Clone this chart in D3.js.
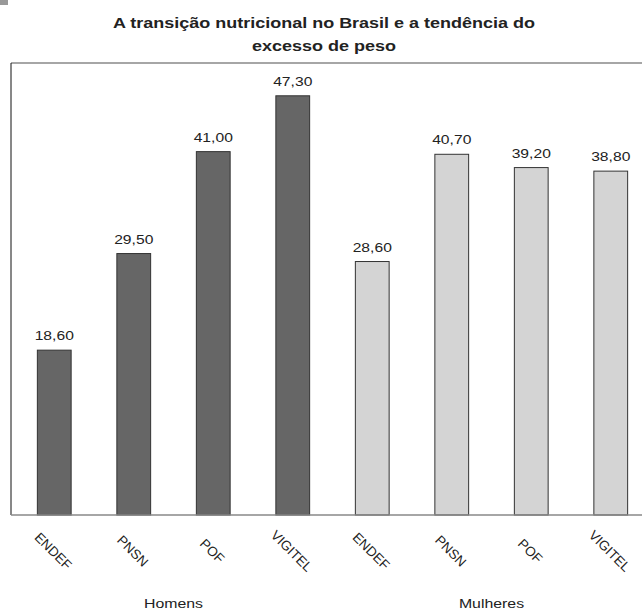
<!DOCTYPE html>
<html>
<head>
<meta charset="utf-8">
<script src="https://cdn.jsdelivr.net/npm/d3@7"></script>
<style>
  body { margin: 0; background: #fff; }
  text { font-family: "Liberation Sans", Arial, sans-serif; fill: #222; }
</style>
</head>
<body>
<svg id="chart" width="642" height="612"></svg>
<script>
(function() {

  // data
  var surveys = ['ENDEF', 'PNSN', 'POF', 'VIGITEL']
  var groups = ['Homens', 'Mulheres']
  var homens = [18.6, 29.5, 41.0, 47.3]
  var mulheres = [28.6, 40.7, 39.2, 38.8]
  var titleLines = ['A transição nutricional no Brasil e a tendência do', 'excesso de peso']

  var datapoints = []
  surveys.forEach(function(s, i) {
    datapoints.push({ key: 'Homens-' + s, survey: s, group: 'Homens', value: homens[i] })
  })
  surveys.forEach(function(s, i) {
    datapoints.push({ key: 'Mulheres-' + s, survey: s, group: 'Mulheres', value: mulheres[i] })
  })

  var stretch = 1.16 // text in the picture looks a bit wide

  var svg = d3.select('#chart')

  var left = 11, right = 642, top = 63, bottom = 515

  var xPositionScale = d3.scaleBand()
    .domain(datapoints.map(function(d) { return d.key }))
    .range([14.5, 650.5])
    .paddingInner(0.575)
    .paddingOuter(0.2875)

  var yPositionScale = d3.scaleLinear().domain([0, 51]).range([bottom, top])

  var colorScale = d3.scaleOrdinal().domain(groups).range(['#666666', '#d4d4d4'])

  // little grey mark in the corner
  svg.append('rect').attr('x', 0).attr('y', 0).attr('width', 8).attr('height', 5).attr('fill', '#999')

  // title
  svg.selectAll('.title')
    .data(titleLines)
    .enter().append('text')
    .attr('class', 'title')
    .attr('transform', function(d, i) { return 'translate(324,' + (27.5 + i * 23) + ') scale(1.2,1)' })
    .attr('text-anchor', 'middle')
    .style('font-size', '15px')
    .style('font-weight', 'bold')
    .text(function(d) { return d })

  // frame
  svg.append('line').attr('x1', left).attr('x2', right).attr('y1', top).attr('y2', top)
    .attr('stroke', '#888').attr('stroke-width', 1.5)
  svg.append('line').attr('x1', left).attr('x2', left).attr('y1', top).attr('y2', bottom)
    .attr('stroke', '#111').attr('stroke-width', 1)

  // bars
  svg.selectAll('.bar')
    .data(datapoints)
    .enter().append('rect')
    .attr('class', 'bar')
    .attr('x', function(d) { return xPositionScale(d.key) })
    .attr('width', xPositionScale.bandwidth())
    .attr('y', function(d) { return yPositionScale(d.value) })
    .attr('height', function(d) { return yPositionScale(0) - yPositionScale(d.value) })
    .attr('fill', function(d) { return colorScale(d.group) })
    .attr('stroke', '#333')
    .attr('stroke-width', 1)

  // value labels
  svg.selectAll('.value')
    .data(datapoints)
    .enter().append('text')
    .attr('class', 'value')
    .attr('transform', function(d) {
      var cx = xPositionScale(d.key) + xPositionScale.bandwidth() / 2
      return 'translate(' + cx + ',' + (yPositionScale(d.value) - 10) + ') scale(' + stretch + ',1)'
    })
    .attr('text-anchor', 'middle')
    .style('font-size', '13.5px')
    .text(function(d) { return d3.format('.2f')(d.value).replace('.', ',') })

  // bottom axis line
  svg.append('line').attr('x1', left).attr('x2', right).attr('y1', bottom).attr('y2', bottom)
    .attr('stroke', '#888').attr('stroke-width', 1.5)

  // rotated category labels
  svg.selectAll('.cat')
    .data(datapoints)
    .enter().append('text')
    .attr('class', 'cat')
    .attr('transform', function(d) {
      var cx = xPositionScale(d.key) + xPositionScale.bandwidth() / 2 - 1
      return 'translate(' + cx + ',551) rotate(45)'
    })
    .attr('text-anchor', 'middle')
    .attr('dy', '0.35em')
    .style('font-size', '13.5px')
    .text(function(d) { return d.survey })

  // group labels
  svg.selectAll('.group')
    .data(groups)
    .enter().append('text')
    .attr('class', 'group')
    .attr('transform', function(d) {
      var a = xPositionScale(d + '-' + surveys[1]), b = xPositionScale(d + '-' + surveys[2])
      var cx = (a + b) / 2 + xPositionScale.bandwidth() / 2
      return 'translate(' + cx + ',608) scale(1.22,1)'
    })
    .attr('text-anchor', 'middle')
    .style('font-size', '13px')
    .text(function(d) { return d })

})()
</script>
</body>
</html>
